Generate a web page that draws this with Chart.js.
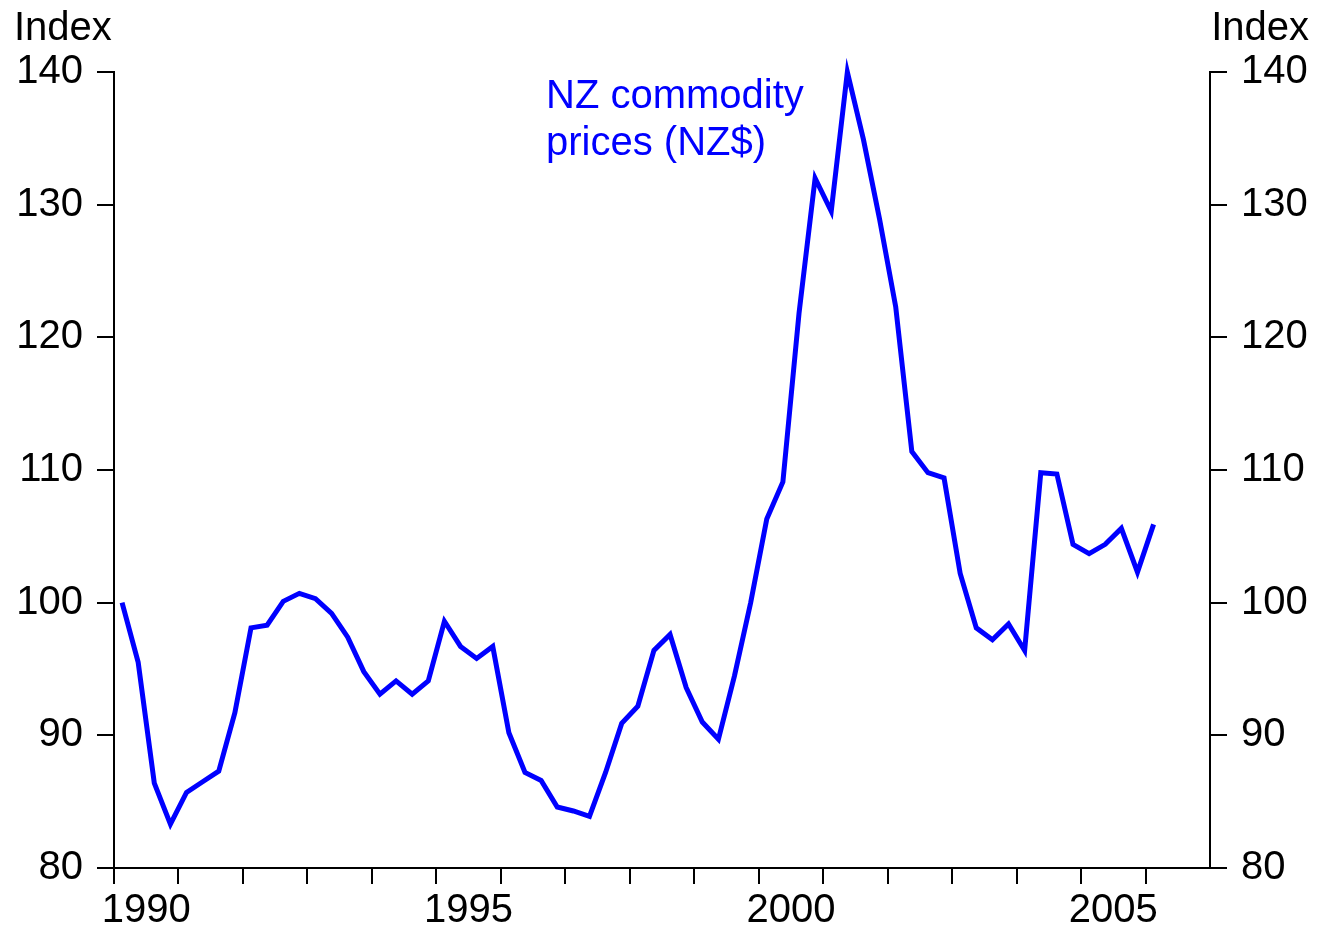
<!DOCTYPE html>
<html>
<head>
<meta charset="utf-8">
<script src="https://cdn.jsdelivr.net/npm/chart.js@4.4.1/dist/chart.umd.min.js"></script>
<style>
  html, body { margin: 0; padding: 0; background: #fff; }
  #wrap { width: 1318px; height: 930px; }
</style>
</head>
<body>
<div id="wrap"><canvas id="myChart" width="1318" height="930"></canvas></div>
<script>
// quarterly index, 1990 Q1 to 2006 Q1
const startYear = 1990;
const precios = [
    100.0, 95.5, 86.4, 83.3, 85.7, 86.5, 87.3, 91.7, 98.1, 98.3,
    100.1, 100.7, 100.3, 99.2, 97.4, 94.8, 93.1, 94.1, 93.1, 94.1,
    98.6, 96.7, 95.8, 96.7, 90.2, 87.2, 86.6, 84.6, 84.3, 83.9,
    87.2, 90.9, 92.2, 96.4, 97.6, 93.6, 91.0, 89.7, 94.5, 100.0,
    106.3, 109.1, 121.8, 132.0, 129.5, 140.0, 134.9, 128.9, 122.3, 111.4,
    109.8, 109.4, 102.2, 98.1, 97.2, 98.4, 96.4, 109.8, 109.7, 104.4,
    103.7, 104.4, 105.6, 102.3, 105.9
];
const etiquetasAnios = [1990, 1995, 2000, 2005];
const yTicks = [80, 90, 100, 110, 120, 130, 140];
const serieNombre = ['NZ commodity', 'prices (NZ$)'];
const ejeTitulo = 'Index';

const FONT = 'Arial, "Liberation Sans", sans-serif';
const puntos = precios.map((v, i) => ({ x: startYear + (i + 0.5) / 4, y: v }));

const textos = {
    id: 'textos',
    afterDraw(chart) {
        const ctx = chart.ctx;
        ctx.save();
        ctx.font = '40px ' + FONT;
        ctx.textBaseline = 'alphabetic';
        ctx.fillStyle = '#000';
        ctx.textAlign = 'left';
        ctx.fillText(ejeTitulo, 14, 40);
        ctx.textAlign = 'right';
        ctx.fillText(ejeTitulo, 1309, 40);
        ctx.fillStyle = '#0000ff';
        ctx.textAlign = 'left';
        ctx.fillText(serieNombre[0], 546, 108);
        ctx.fillText(serieNombre[1], 546, 155);
        ctx.restore();
    }
};

const ejeY = (pos) => ({
    type: 'linear',
    position: pos,
    min: 80,
    max: 140,
    afterBuildTicks: s => { s.ticks = yTicks.map(v => ({ value: v })); },
    afterFit: s => { s.width = pos === 'left' ? 114 : 108; },
    border: { display: true, color: '#000', width: 2 },
    grid: { drawOnChartArea: false, drawTicks: true, tickLength: 17, color: '#000', lineWidth: 2 },
    ticks: { color: '#000', font: { family: FONT, size: 40 }, padding: 14 }
});

new Chart(document.getElementById('myChart').getContext('2d'), {
    type: 'line',
    data: {
        datasets: [{
            data: puntos,
            borderColor: '#0000ff',
            borderWidth: 5,
            borderJoinStyle: 'miter',
            pointRadius: 0,
            tension: 0,
            clip: false,
            yAxisID: 'y'
        }]
    },
    options: {
        responsive: false,
        animation: false,
        events: [],
        layout: { padding: { top: 72, left: 0, right: 0, bottom: 0 } },
        plugins: { legend: { display: false }, tooltip: { enabled: false } },
        scales: {
            x: {
                type: 'linear',
                position: 'bottom',
                min: 1990,
                max: 2007,
                weight: 0,
                afterBuildTicks: s => {
                    const t = [];
                    for (let a = 1990; a < 2007; a++) t.push({ value: a });
                    s.ticks = t;
                },
                afterFit: s => { s.height = 16; },
                border: { display: true, color: '#000', width: 2 },
                grid: { drawOnChartArea: false, drawTicks: true, tickLength: 16, color: '#000', lineWidth: 2 },
                ticks: { display: false }
            },
            xLab: {
                type: 'linear',
                position: 'bottom',
                min: 1990,
                max: 2007,
                weight: 1,
                afterBuildTicks: s => { s.ticks = etiquetasAnios.map(a => ({ value: a + 0.5 })); },
                afterFit: s => { s.height = 46; },
                border: { display: false },
                grid: { display: false, drawTicks: false },
                ticks: {
                    color: '#000',
                    font: { family: FONT, size: 40 },
                    padding: 3,
                    maxRotation: 0,
                    autoSkip: false,
                    callback: v => String(Math.floor(v))
                }
            },
            y: ejeY('left'),
            y2: ejeY('right')
        }
    },
    plugins: [textos]
});
</script>
</body>
</html>
